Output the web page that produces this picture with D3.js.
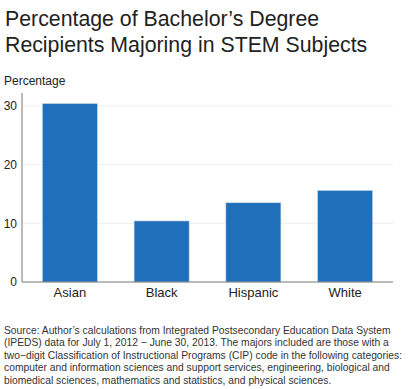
<!DOCTYPE html>
<html>
<head>
<meta charset="utf-8">
<script src="https://cdn.jsdelivr.net/npm/d3@7"></script>
<style>
  body { margin: 0; background: #fff; }
  svg { font-family: "Liberation Sans", Arial, sans-serif; }
</style>
</head>
<body>
<div id="chart"></div>
<script>
const width = 411;
const height = 389;

// data
const groups = ["Asian", "Black", "Hispanic", "White"];
const shares = [30.4, 10.4, 13.5, 15.6];
const yTicks = [0, 10, 20, 30];
const titleLines = ["Percentage of Bachelor\u2019s Degree", "Recipients Majoring in STEM Subjects"];
const sourceLines = [
  "Source: Author\u2019s calculations from Integrated Postsecondary Education Data System",
  "(IPEDS) data for July 1, 2012 \u2212 June 30, 2013. The majors included are those with a",
  "two\u2212digit Classification of Instructional Programs (CIP) code in the following categories:",
  "computer and information sciences and support services, engineering, biological and",
  "biomedical sciences, mathematics and statistics, and physical sciences."
];

const svg = d3.select("#chart")
  .append("svg")
  .attr("width", width)
  .attr("height", height);

// title
svg.append("g")
  .selectAll("text")
  .data(titleLines)
  .join("text")
  .attr("x", 5)
  .attr("y", (d, i) => 26 + i * 26)
  .attr("font-size", 21.3)
  .attr("fill", "#222")
  .text(d => d);

svg.append("text")
  .attr("x", 4)
  .attr("y", 85)
  .attr("font-size", 12)
  .attr("fill", "#222")
  .text("Percentage");

const x = d3.scaleBand()
  .domain(groups)
  .range([24, 391])
  .paddingInner(0.4)
  .paddingOuter(0.2);

const y = d3.scaleLinear()
  .domain([0, 32.2])
  .range([282, 93]);

// gridlines
svg.append("g")
  .selectAll("line")
  .data(yTicks.filter(d => d > 0))
  .join("line")
  .attr("x1", 22)
  .attr("x2", 393)
  .attr("y1", d => y(d))
  .attr("y2", d => y(d))
  .attr("stroke", "#eeeeee");

// bars
svg.append("g")
  .selectAll("rect")
  .data(shares)
  .join("rect")
  .attr("x", (d, i) => x(groups[i]))
  .attr("y", d => y(d))
  .attr("width", x.bandwidth())
  .attr("height", d => y(0) - y(d))
  .attr("fill", "#1f6fbb")
  .attr("stroke", "#c8d6e4")
  .attr("stroke-width", 0.6);

// y axis
const yAxis = svg.append("g")
  .attr("transform", "translate(22,0)")
  .call(d3.axisLeft(y).tickValues(yTicks).tickSize(0).tickPadding(5));
yAxis.select(".domain").attr("stroke", "#777").attr("d", `M0,${y(32.2)}V${y(0)}`);
yAxis.selectAll("text").attr("font-size", 12).attr("fill", "#222")
  .attr("font-family", "Liberation Sans, Arial, sans-serif");

// x axis
const xAxis = svg.append("g")
  .attr("transform", "translate(0,282)")
  .call(d3.axisBottom(x).tickSize(0).tickPadding(6));
xAxis.select(".domain").attr("stroke", "#777").attr("d", "M22,0H393");
xAxis.selectAll("text").attr("font-size", 13).attr("fill", "#222")
  .attr("font-family", "Liberation Sans, Arial, sans-serif");

// source note
svg.append("g")
  .selectAll("text")
  .data(sourceLines)
  .join("text")
  .attr("x", 4)
  .attr("y", (d, i) => 334 + i * 12.4)
  .attr("font-size", 10.3)
  .attr("fill", "#333")
  .text(d => d);
</script>
</body>
</html>
